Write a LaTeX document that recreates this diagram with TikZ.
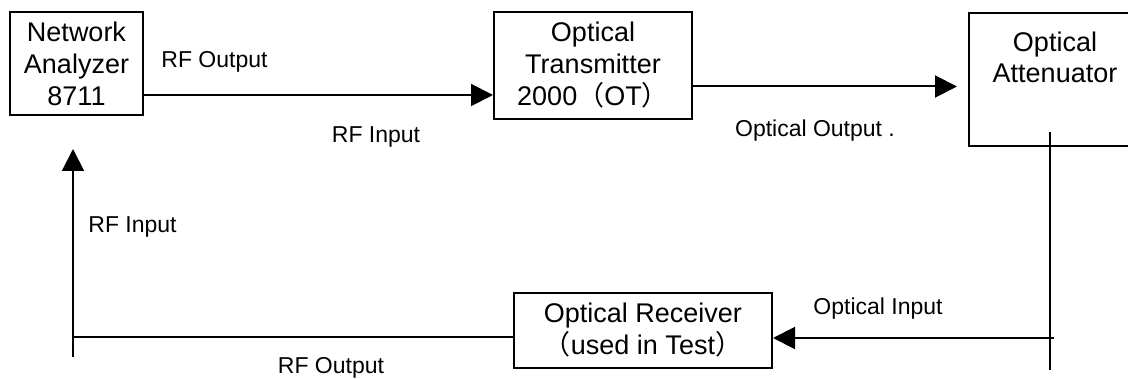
\documentclass[tikz,border=0pt]{standalone}
\usepackage{fontspec}
\setmainfont{Liberation Sans}
\newfontfamily\cjk{Noto Sans CJK SC}
\usetikzlibrary{arrows.meta}
\newcommand\boxfont{\fontsize{27}{32}\selectfont}
\newcommand\lblfont{\fontsize{23}{27}\selectfont}
\begin{document}
\begin{tikzpicture}[x=1pt,y=-1pt,
  box/.style={draw, line width=2pt, inner sep=0pt, align=center, font=\boxfont},
  boxtext/.style={inner sep=0pt, align=center, font=\fontsize{27}{31}\selectfont},
  lbl/.style={inner sep=0pt, anchor=base, font=\lblfont},
  wire/.style={line width=2pt},
  conn/.style={line width=2pt, -{Triangle[length=22pt,width=22pt]}}]
\fill[white] (0,0) rectangle (1128,379);
\useasboundingbox (0,0) rectangle (1128,379);

% instruments
\node[box, minimum width=133pt, minimum height=103pt] (na) at (76.5,63.5)
  {Network\\Analyzer\\8711};
\node[box, minimum width=198pt, minimum height=107pt] (ot) at (593,65.5)
  {Optical\\Transmitter\\2000{\cjk （}OT{\cjk ）}};
\node[box, minimum width=172pt, minimum height=133pt] (att) at (1055,79.5) {};
\node[boxtext, anchor=north] (attname) at ([yshift=-20pt]att.north)
  {Optical\\Attenuator};
\node[box, minimum width=258pt, minimum height=75pt] (rx) at (643,330.5)
  {Optical Receiver\\{\cjk （}used in Test{\cjk ）}};

% junction points of the signal path
\coordinate (a1) at (0,95);
\coordinate (a2) at (0,86.5);
\coordinate (vtop) at (1050,132);
\coordinate (vbot) at (1050,370);
\coordinate (vjoin) at (1054,338);
\coordinate (lcorner) at (73,337);
\coordinate (lbot) at (73,357);
\coordinate (ltip) at (73,149);

% RF out of the analyzer into the transmitter
\draw[conn] (na.east |- a1) -- (ot.west |- a1);
% optical path to the attenuator
\draw[conn] (ot.east |- a2) -- ([xshift=-11pt]att.west |- a2);
% attenuator output down to the receiver
\draw[wire] (vtop) -- (vbot);
\draw[conn] (vjoin) -- (rx.east |- vjoin);
% receiver RF output back to the analyzer
\draw[wire] (rx.west |- lcorner) -- (lcorner);
\draw[conn] (lbot) -- (ltip);

% port labels
\node[lbl] (l1) at (214.5,68) {RF Output};
\node[lbl] (l2) at (376,143) {RF Input};
\node[lbl] (l3) at (815,137) {Optical Output .};
\node[lbl] (l4) at (132.5,233) {RF Input};
\node[lbl] (l5) at (878,315) {Optical Input};
\node[lbl] (l6) at (331,374) {RF Output};
\end{tikzpicture}
\end{document}
